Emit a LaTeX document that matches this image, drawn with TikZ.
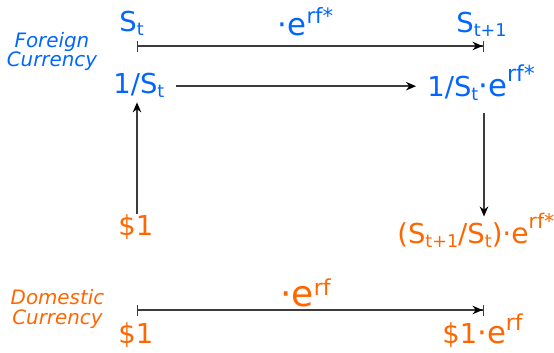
\documentclass[tikz,border=0pt]{standalone}
\usepackage{fontspec}
\setmainfont{DejaVu Sans}
\usetikzlibrary{arrows.meta}
\definecolor{fgnblue}{HTML}{0066FF}
\definecolor{domorange}{HTML}{FF6600}
\definecolor{linegray}{HTML}{3C3C3C}
\newcommand{\rsub}[1]{\raisebox{-0.08cm}{\fontsize{10}{10}\selectfont #1}}
\newcommand{\rsup}[3][12]{\raisebox{#2}{\fontsize{#1}{#1}\selectfont #3}}
\newcommand{\dote}[1][17.5]{{\fontsize{#1}{18}\selectfont ·e}}
\begin{document}
\begin{tikzpicture}[
  fgn/.style={text=fgnblue,inner sep=0pt,anchor=base west,font=\fontsize{15.6}{18}\selectfont},
  dom/.style={text=domorange,inner sep=0pt,anchor=base west,font=\fontsize{15.6}{18}\selectfont},
  side/.style={align=center,font=\fontsize{11.3}{10.9}\selectfont\itshape},
  flow/.style={draw=linegray,line width=0.85pt,-{Stealth[length=0.2cm,width=0.17cm,color=black]}},
  span/.style={draw=linegray,line width=0.85pt,{Bar[width=0.22cm]}-{Stealth[length=0.2cm,width=0.17cm,color=black]Bar[width=0.22cm]}}]
\useasboundingbox (0,0) rectangle (11.08,-7.04);
% side labels
\node[side,text=fgnblue] (fgnlbl) at (1.04,-1.03) {Foreign\\Currency};
\node[side,text=domorange] (domlbl) at (1.15,-6.18) {Domestic\\Currency};
% foreign row
\node[fgn] (St) at (2.38,-0.62) {S\rsub{t}};
\node[fgn] (Stp) at (9.12,-0.64) {S\rsub{t+1}};
\node[fgn] (erfs) at (5.55,-0.70) {\dote\rsup{0.24cm}{rf*}};
\coordinate (ftl) at (2.74,-0.92);
\coordinate (ftr) at (9.68,-0.92);
\draw[span] (ftl) -- (ftr);
\node[fgn] (invS) at (2.26,-1.86) {1/S\rsub{t}};
\node[fgn] (invSe) at (8.54,-1.92) {1/S\rsub{t}\dote\rsup[12.5]{0.30cm}{rf*}};
\draw[flow,shorten <=0.22cm,shorten >=0.22cm] ([yshift=0.04cm]invS.mid east) -- ([yshift=0.04cm]invS.mid east -| invSe.west);
% conversion back and forth
\node[dom] (usd) at (2.36,-4.70) {\$1};
\node[dom] (ratio) at (7.94,-4.86) {(S\rsub{t+1}/S\rsub{t})\dote[16]\rsup[11.5]{0.30cm}{rf*}};
\coordinate (ubot) at (2.74,-4.28);
\coordinate (rtop) at (9.68,-2.26);
\coordinate (rbot) at (9.68,-4.33);
\draw[flow,shorten >=0.1cm] (ubot) -- (ubot |- invS.south);
\draw[flow] (rtop) -- (rbot);
% domestic row
\node[dom] (erf) at (5.60,-6.12) {\dote[20.5]\rsup[12.5]{0.22cm}{rf}};
\coordinate (dbl) at (2.74,-6.20);
\coordinate (dbr) at (9.68,-6.20);
\draw[span] (dbl) -- (dbr);
\node[dom] (usd2) at (2.36,-6.86) {\$1};
\node[dom] (usde) at (8.84,-6.86) {\$1\dote\rsup[12.5]{0.26cm}{rf}};
\end{tikzpicture}
\end{document}
